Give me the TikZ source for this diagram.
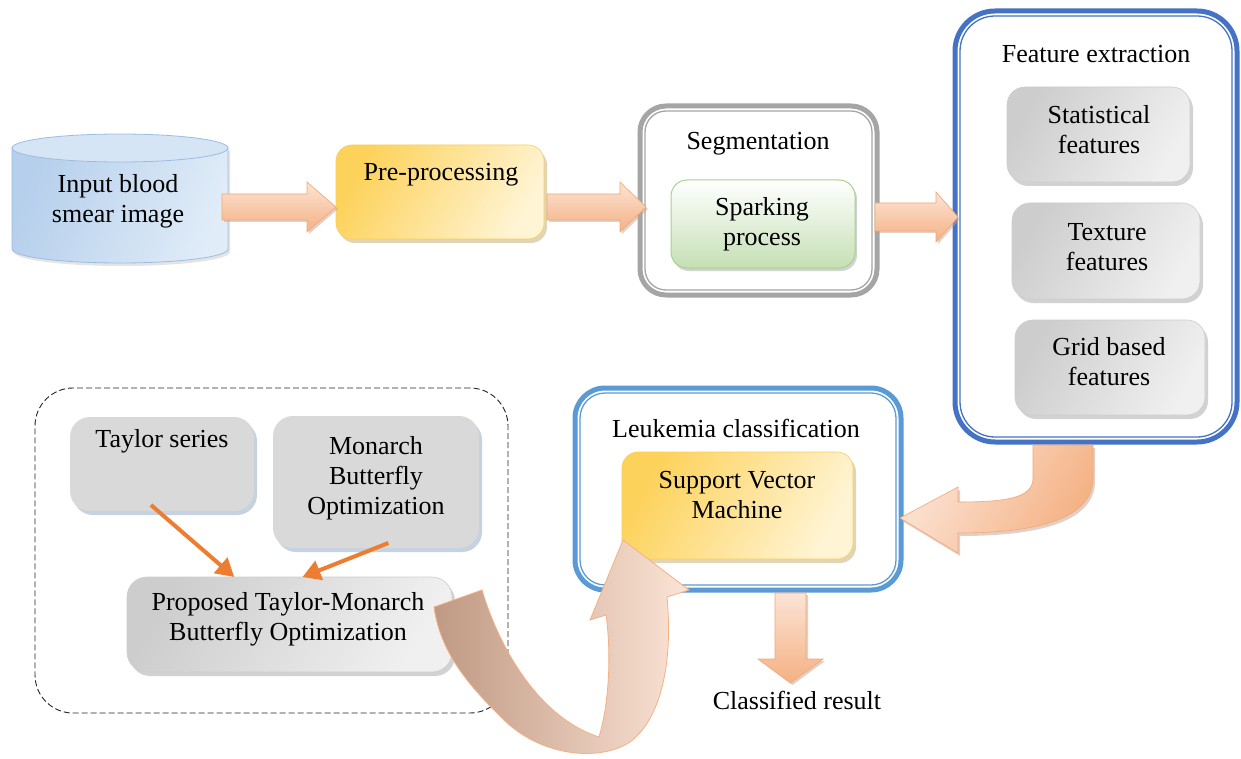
\documentclass[tikz,border=0pt]{standalone}
\usepackage{fontspec}
\setmainfont{Liberation Serif}
\usetikzlibrary{shadows,calc,arrows.meta}
\definecolor{yelD}{HTML}{FDD25A}
\definecolor{yelL}{HTML}{FFF4D4}
\definecolor{yelB}{HTML}{F6CF63}
\definecolor{yelS}{HTML}{C4AC6E}
\definecolor{gryD}{HTML}{CDCDCD}
\definecolor{gryL}{HTML}{F0F0F0}
\definecolor{gryS}{HTML}{A6A6A6}
\definecolor{gryF}{HTML}{D9D9D9}
\definecolor{blueS}{HTML}{8FA6C2}
\definecolor{grnB}{HTML}{A9D18E}
\definecolor{grnD}{HTML}{C5E0B4}
\definecolor{blueFE}{HTML}{4472C4}
\definecolor{blueLC}{HTML}{5B9BD5}
\definecolor{segG}{HTML}{A5A5A5}
\definecolor{peachD}{HTML}{F4B183}
\definecolor{peachL}{HTML}{FCE4D6}
\definecolor{peachB}{HTML}{F0A977}
\definecolor{peachS}{HTML}{C9A18A}
\definecolor{brownA}{HTML}{BF9983}
\definecolor{orangeA}{HTML}{ED7D31}
\definecolor{cylD}{HTML}{B6CFEC}
\definecolor{cylL}{HTML}{E0ECF8}
\definecolor{cylT}{HTML}{D6E5F5}
\definecolor{cylB}{HTML}{9CBDE0}
\begin{document}
\begin{tikzpicture}[x=1pt,y=-1pt,font=\fontsize{26}{30}\selectfont,
  txt/.style={align=center,inner sep=0pt,text=black},
  boxbase/.style={inner sep=0pt,outer sep=0pt},
  ybox/.style={boxbase,rounded corners=16pt,draw=yelB,line width=0.6pt,
    left color=yelD,right color=yelL,shading angle=60,
    drop shadow={shadow xshift=3pt,shadow yshift=-4pt,fill=yelS}},
  gbox/.style={boxbase,rounded corners=18pt,draw=gryD,line width=0.6pt,
    left color=gryD,right color=gryL,shading angle=60,
    drop shadow={shadow xshift=3pt,shadow yshift=-4pt,fill=gryS}},
  tbox/.style={boxbase,rounded corners=20pt,fill=gryF,
    drop shadow={shadow xshift=3pt,shadow yshift=-4pt,fill=blueS}},
  grbox/.style={boxbase,rounded corners=16pt,draw=grnB,line width=1pt,
    top color=white,bottom color=grnD,
    drop shadow={shadow xshift=2pt,shadow yshift=-3pt,fill=gryS}},
  outerline/.style={boxbase,draw=#1,line width=5pt,fill=white},
  innerline/.style={boxbase,draw=#1,line width=1.3pt},
  barrow/.style={draw=peachB,line width=0.6pt,top color=peachL,bottom color=peachD,
    drop shadow={shadow xshift=2pt,shadow yshift=-2pt,fill=peachS}},
  oarr/.style={draw=orangeA,line width=4pt,-{Triangle[length=18pt,width=20pt]}},
  dashbox/.style={boxbase,draw=black!85,line width=0.9pt,dash pattern=on 6pt off 3pt,rounded corners=38pt}
]
\useasboundingbox (0,0) rectangle (1241,759);
\fill[white] (0,0) rectangle (1241,759);

% ---------- Input cylinder ----------
\path[draw=cylB,line width=0.8pt,left color=cylD,right color=cylL,shading angle=70,
    drop shadow={shadow xshift=2pt,shadow yshift=-3pt,fill=gryS!60}]
  (12,148) -- (12,249) arc[start angle=180,end angle=0,x radius=108,y radius=14] -- (228,148) -- cycle;
\path[draw=cylB,line width=0.8pt,fill=cylT] (120,148) ellipse[x radius=108,y radius=14];
\node[txt] (inp) at (118,201) {Input blood\\smear image};

% ---------- Pre-processing ----------
\node[ybox,minimum width=208pt,minimum height=94pt] (pre) at (440,192) {};
\node[txt] (pret) at (441,175) {Pre-processing};

% ---------- Segmentation ----------
\node[outerline=segG,minimum width=237pt,minimum height=189pt,rounded corners=26pt] (seg) at (758.5,200.5) {};
\node[innerline=segG,minimum width=227pt,minimum height=179pt,rounded corners=21pt] (segin) at (seg) {};
\node[txt] (segt) at (758,144) {Segmentation};
\node[grbox,minimum width=184pt,minimum height=88pt] (spark) at (763,224) {};
\node[txt] (sparkt) at (762,224) {Sparking\\process};

% ---------- Feature extraction ----------
\node[outerline=blueFE,minimum width=282pt,minimum height=431pt,rounded corners=40pt] (fe) at (1096,226.5) {};
\node[innerline=blueFE,minimum width=272pt,minimum height=421pt,rounded corners=35pt] (fein) at (fe) {};
\node[txt] (fet) at (1096,54) {Feature extraction};
\node[gbox,minimum width=183pt,minimum height=95pt] (stat) at (1098.5,134.5) {};
\node[txt] (statt) at (1099,130) {Statistical\\features};
\node[gbox,minimum width=188pt,minimum height=96pt] (tex) at (1106,251) {};
\node[txt] (text) at (1107,247) {Texture\\features};
\node[gbox,minimum width=190pt,minimum height=95pt] (grid) at (1110,367.5) {};
\node[txt] (gridt) at (1109,362) {Grid based\\features};

% ---------- Leukemia classification ----------
\node[outerline=blueLC,minimum width=326pt,minimum height=202pt,rounded corners=30pt] (lc) at (738,489) {};
\node[innerline=blueLC,minimum width=316pt,minimum height=192pt,rounded corners=25pt] (lcin) at (lc) {};
\node[txt] (lct) at (736,428) {Leukemia classification};
\node[ybox,minimum width=231pt,minimum height=107pt] (svm) at (737.5,505.5) {};
\node[txt] (svmt) at (737,495) {Support Vector\\Machine};

% ---------- Optimization group ----------
\node[dashbox,minimum width=473pt,minimum height=325pt] (grp) at (271.5,550.5) {};
\node[tbox,minimum width=184pt,minimum height=94pt] (tay) at (162,464) {};
\node[txt] (tayt) at (162,441) {Taylor series};
\node[tbox,minimum width=206pt,minimum height=132pt] (mbo) at (376,482) {};
\node[txt] (mbot) at (376,478) {Monarch\\Butterfly\\Optimization};
\node[gbox,minimum width=325pt,minimum height=95pt,rounded corners=20pt] (prop) at (289.5,624.5) {};
\node[txt] (propt) at (288,619) {Proposed Taylor-Monarch\\Butterfly Optimization};

\draw[oarr] ($(tay.south west)!0.44!(tay.south east)+(0,-6)$) -- ($(prop.north west)!0.33!(prop.north east)$);
\draw[oarr] ($(mbo.south west)!0.56!(mbo.south east)+(0,-5)$) -- ($(prop.north west)!0.54!(prop.north east)$);

% ---------- Block arrows ----------
\path[barrow] (222,194) -- (307,194) -- (307,182) -- (336,207) -- (307,232) -- (307,220) -- (222,220) -- cycle;
\path[barrow] (547,194) -- (620,194) -- (620,182) -- (646,207) -- (620,232) -- (620,220) -- (547,220) -- cycle;
\path[barrow] (875,203) -- (936,203) -- (936,192) -- (958,217) -- (936,242) -- (936,231) -- (875,231) -- cycle;
\path[barrow] (775,593) -- (806,593) -- (806,659) -- (823,659) -- (790.5,683) -- (758,659) -- (775,659) -- cycle;
\node[txt] (res) at (797,700) {Classified result};

% curved arrow: feature extraction -> leukemia classification
\path[draw=peachB,line width=0.6pt,left color=peachL,right color=peachD,shading angle=60,
    drop shadow={shadow xshift=2pt,shadow yshift=-3pt,fill=peachS}]
  (1093,445) -- (1093,478) .. controls (1093,518) and (1040,533) .. (958,533)
  -- (958,553) -- (900,518) -- (958,487) -- (958,502)
  .. controls (1010,502) and (1033,497) .. (1033,478) -- (1033,445) -- cycle;

% curved arrow: proposed -> SVM
\path[draw=peachD,line width=0.8pt,left color=brownA,middle color=peachD!80!white,right color=peachL]
  (434,607) -- (482,590) .. controls (500,650) and (540,718) .. (599,737)
  .. controls (610,700) and (611,650) .. (606,615)
  -- (590,620) -- (623,540) -- (689,590) -- (667,597)
  .. controls (673,660) and (662,718) .. (630,742)
  .. controls (600,762) and (540,757) .. (502,718)
  .. controls (465,682) and (440,650) .. (434,607) -- cycle;
\end{tikzpicture}
\end{document}
